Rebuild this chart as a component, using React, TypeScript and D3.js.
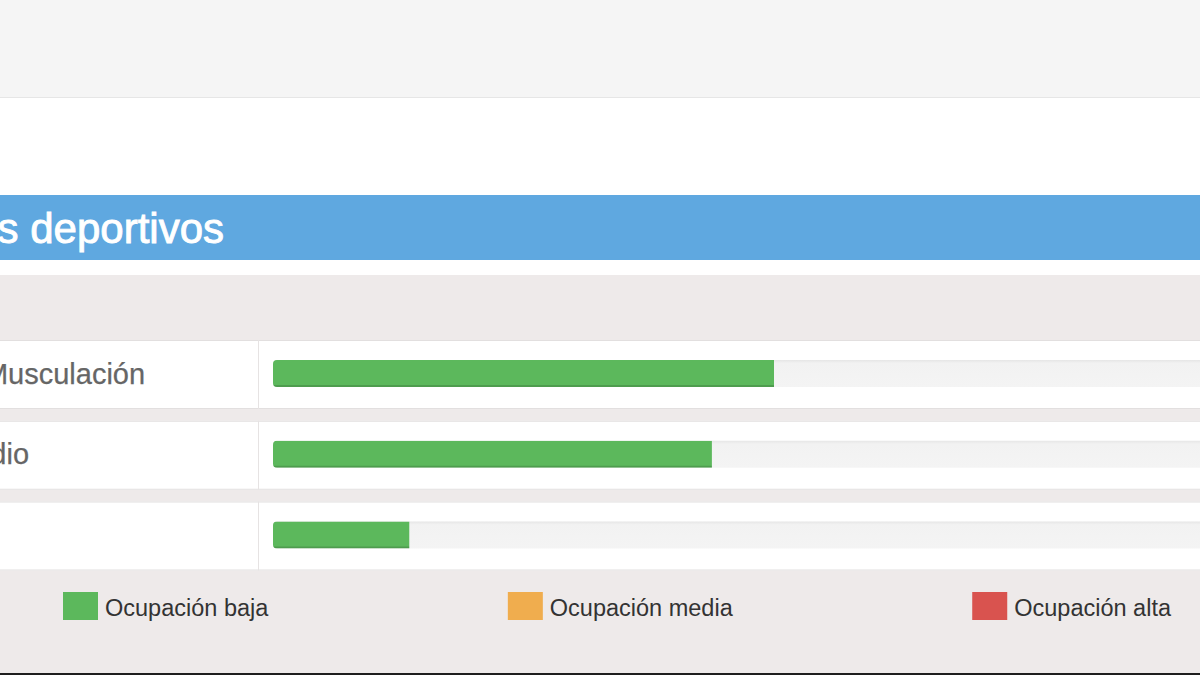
import React, { useMemo } from "react";
import * as d3 from "d3";

const titleText = "Espacios deportivos";
const categories = ["Sala de Musculación", "Sala Cardio", "Piscina"];
const occupancy = [50, 43.8, 13.6]; // % occupancy
const legendLabels = ["Ocupación baja", "Ocupación media", "Ocupación alta"];
const legendColors = ["#5cb85c", "#f0ad4e", "#d9534f"];

const W = 1200;
const H = 675;
const FONT = "'Liberation Sans', Arial, Helvetica, sans-serif";
const LEGEND_FS = 23.5;
const SW = 35; // legend swatch width
const SGAP = 7; // swatch-text gap

export default function App() {
  const x = d3.scaleLinear().domain([0, 100]).range([273, 1275]);
  const y = d3
    .scaleBand<string>()
    .domain(categories)
    .range([340, 570.5])
    .paddingInner(0.1455)
    .paddingOuter(0);

  // legend laid out like a flex row with space-between, from 63 to 1171
  const legendPos = useMemo(() => {
    const cv = document.createElement("canvas");
    const ctx = cv.getContext("2d");
    let widths = legendLabels.map((l) => l.length * 12);
    if (ctx) {
      ctx.font = `${LEGEND_FS}px ${FONT}`;
      widths = legendLabels.map((l) => ctx.measureText(l).width);
    }
    const itemW = widths.map((w) => SW + SGAP + w);
    const left = 63;
    const right = 1171;
    const total = d3.sum(itemW);
    const gap = (right - left - total) / (legendLabels.length - 1);
    const pos: number[] = [];
    let cur = left;
    itemW.forEach((w) => {
      pos.push(cur);
      cur += w + gap;
    });
    return pos;
  }, []);

  const bw = y.bandwidth();
  const barH = 27;
  const barOff = 20;

  return (
    <svg
      width={W}
      height={H}
      viewBox={`0 0 ${W} ${H}`}
      style={{ position: "absolute", left: 0, top: 0, display: "block" }}
      fontFamily={FONT}
    >
      <defs>
        {categories.map((c, i) => (
          <clipPath id={`trk${i}`} key={c}>
            <rect
              x={x(0)}
              y={(y(c) as number) + barOff}
              width={W + 40 - x(0)}
              height={barH}
              rx={4}
            />
          </clipPath>
        ))}
        <linearGradient id="trackGrad" x1="0" y1="0" x2="0" y2="1">
          <stop offset="0" stopColor="#e6e6e6" />
          <stop offset="0.12" stopColor="#f2f2f2" />
          <stop offset="1" stopColor="#f4f4f4" />
        </linearGradient>
      </defs>

      {/* page background */}
      <rect x={0} y={0} width={W} height={H} fill="#ffffff" />
      {/* top band */}
      <rect x={0} y={0} width={W} height={97} fill="#f5f5f5" />
      <rect x={0} y={97} width={W} height={1} fill="#e6e6e6" />

      {/* title bar */}
      <rect x={0} y={195} width={W} height={65} fill="#5fa8e0" />
      <text
        x={224}
        y={243}
        textAnchor="end"
        fontSize={42}
        fill="#ffffff"
        stroke="#ffffff"
        strokeWidth={0.9}
      >
        {titleText}
      </text>

      {/* table background */}
      <rect x={0} y={275} width={W} height={398} fill="#eeeaea" />
      <rect x={0} y={673} width={W} height={2} fill="#1e1e1e" />

      {/* rows */}
      {categories.map((c, i) => {
        const top = y(c) as number;
        const by = top + barOff;
        const xv = x(occupancy[i]);
        return (
          <g key={c}>
            <rect x={0} y={top} width={W} height={bw} fill="#ffffff" />
            <rect x={0} y={top} width={W} height={1} fill="#e2dfdf" />
            <rect x={0} y={top + bw - 1} width={W} height={1} fill="#e2dfdf" />
            <rect x={258} y={top} width={1} height={bw} fill="#e6e3e3" />
            <text
              x={-122.5}
              y={top + 43.5}
              fontSize={29}
              fill="#666666"
              stroke="#666666"
              strokeWidth={0.25}
            >
              {c}
            </text>
            {/* track */}
            <rect
              x={x(0)}
              y={by}
              width={W + 40 - x(0)}
              height={barH}
              rx={4}
              fill="url(#trackGrad)"
            />
            {/* bar */}
            <g clipPath={`url(#trk${i})`}>
              <rect
                x={x(0)}
                y={by}
                width={xv - x(0)}
                height={barH}
                fill={legendColors[0]}
              />
              <rect
                x={x(0)}
                y={by + barH - 2}
                width={xv - x(0)}
                height={2}
                fill="rgba(0,0,0,0.15)"
              />
            </g>
          </g>
        );
      })}

      {/* legend */}
      {legendLabels.map((l, i) => {
        const lx = legendPos[i];
        return (
          <g key={l}>
            <rect x={lx} y={592} width={SW} height={28} fill={legendColors[i]} />
            <text x={lx + SW + SGAP} y={616} fontSize={LEGEND_FS} fill="#333333">
              {l}
            </text>
          </g>
        );
      })}
    </svg>
  );
}
